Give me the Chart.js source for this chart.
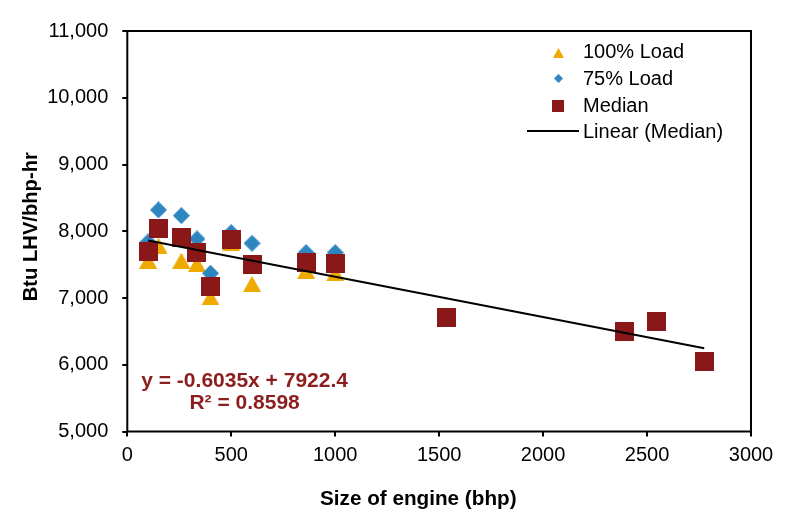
<!DOCTYPE html>
<html>
<head>
<meta charset="utf-8">
<script src="https://cdn.jsdelivr.net/npm/chart.js@4.4.1/dist/chart.umd.min.js"></script>
<style>
html,body{margin:0;padding:0;background:#fff;}
#wrap{width:809px;height:525px;position:relative;}
</style>
</head>
<body>
<div id="wrap"><canvas id="c" width="809" height="525"></canvas></div>
<script>
// ---- data ----
const engineSize   = [100, 150, 260, 335, 400, 500, 600, 860, 1000];
const load100      = [7560, 7785, 7560, 7510, 7012, 7830, 7211, 7406, 7372];
const load75       = [7840, 8320, 8235, 7885, 7370, 7980, 7820, 7680, 7680];
const medianSize   = [100, 150, 260, 335, 400, 500, 600, 860, 1000, 1535, 2390, 2545, 2775];
const medianValue  = [7695, 8045, 7900, 7686, 7171, 7881, 7506, 7536, 7521, 6713, 6503, 6653, 6054];
const trendSlope = -0.6035;
const trendIntercept = 7922.4;
const yTicks = [5000, 6000, 7000, 8000, 9000, 10000, 11000];
const xTicks = [0, 500, 1000, 1500, 2000, 2500, 3000];
const seriesNames = ['100% Load', '75% Load', 'Median', 'Linear (Median)'];

const C_TRI = 'rgb(238,170,0)';
const C_DIA = 'rgb(46,134,193)';
const C_SQ  = 'rgb(139,24,24)';
const C_EQ  = 'rgb(139,30,30)';
const FONT = "'Liberation Sans', Arial, sans-serif";

function mk(w, h, draw) {
  const c = document.createElement('canvas');
  c.width = w; c.height = h;
  const g = c.getContext('2d');
  draw(g, w, h);
  return c;
}
function tri(w, h, col) {
  return mk(w, h, (g, W, H) => { g.fillStyle = col; g.beginPath(); g.moveTo(W/2, 0); g.lineTo(W, H); g.lineTo(0, H); g.closePath(); g.fill(); });
}
function dia(w, h, col) {
  return mk(w, h, (g, W, H) => { g.fillStyle = col; g.beginPath(); g.moveTo(W/2, 0); g.lineTo(W, H/2); g.lineTo(W/2, H); g.lineTo(0, H/2); g.closePath(); g.fill(); });
}
function sq(s, col) {
  return mk(s, s, (g, W, H) => { g.fillStyle = col; g.fillRect(0, 0, W, H); });
}

const ptTri = tri(18, 16, C_TRI), ptDia = dia(17, 17, C_DIA), ptSq = sq(19, C_SQ);
const lgTri = tri(11, 10, C_TRI), lgDia = dia(9, 9, C_DIA), lgSq = sq(12, C_SQ);

const xMin = Math.min(...medianSize), xMax = Math.max(...medianSize);
const trendData = [xMin, xMax].map(x => ({x: x, y: trendSlope * x + trendIntercept}));

const decor = {
  id: 'decor',
  afterDraw(chart) {
    const ctx = chart.ctx, a = chart.chartArea;
    ctx.save();
    // plot box
    ctx.strokeStyle = '#000'; ctx.lineWidth = 2;
    ctx.strokeRect(a.left, a.top, a.right - a.left, a.bottom - a.top);
    // legend
    ctx.fillStyle = '#000';
    ctx.font = '20px ' + FONT;
    ctx.textAlign = 'left'; ctx.textBaseline = 'alphabetic';
    const lx = 583, ys = [58.3, 85, 111.7, 138.3];
    const icons = [lgTri, lgDia, lgSq];
    const icy = [53.3, 78.3, 106];
    icons.forEach((im, i) => ctx.drawImage(im, Math.round(558 - im.width/2), Math.round(icy[i] - im.height/2)));
    ctx.beginPath(); ctx.moveTo(527, 131); ctx.lineTo(579, 131); ctx.lineWidth = 2; ctx.strokeStyle = '#000'; ctx.stroke();
    seriesNames.forEach((n, i) => ctx.fillText(n, lx, ys[i]));
    // equation
    ctx.fillStyle = C_EQ;
    ctx.font = 'bold 21px ' + FONT;
    ctx.textAlign = 'center';
    const sgn = trendIntercept >= 0 ? ' + ' : ' - ';
    ctx.fillText('y = ' + trendSlope.toFixed(4) + 'x' + sgn + Math.abs(trendIntercept).toFixed(1), 244.6, 387.3);
    ctx.fillText('R\u00B2 = 0.8598', 244.6, 409.3);
    // axis titles
    ctx.fillStyle = '#000';
    ctx.font = 'bold 20.7px ' + FONT;
    ctx.fillText('Size of engine (bhp)', 418.3, 505);
    ctx.font = 'bold 20.2px ' + FONT;
    ctx.translate(37.3, 226.7);
    ctx.rotate(-Math.PI / 2);
    ctx.fillText('Btu LHV/bhp-hr', 0, 0);
    ctx.restore();
  }
};

new Chart(document.getElementById('c'), {
  type: 'scatter',
  data: {
    datasets: [
      { label: seriesNames[0], data: engineSize.map((x, i) => ({x: x, y: load100[i]})), pointStyle: ptTri, pointRadius: 9, backgroundColor: C_TRI, borderColor: C_TRI, order: 4 },
      { label: seriesNames[1], data: engineSize.map((x, i) => ({x: x, y: load75[i]})), pointStyle: ptDia, pointRadius: 9, backgroundColor: C_DIA, borderColor: C_DIA, order: 3 },
      { label: seriesNames[2], data: medianSize.map((x, i) => ({x: x, y: medianValue[i]})), pointStyle: ptSq, pointRadius: 10, backgroundColor: C_SQ, borderColor: C_SQ, order: 2 },
      { label: seriesNames[3], type: 'line', data: trendData, showLine: true, pointRadius: 0, borderColor: '#000', borderWidth: 2, fill: false, order: 1 }
    ]
  },
  options: {
    responsive: false,
    animation: false,
    events: [],
    devicePixelRatio: 1,
    layout: { padding: { left: 0, right: 58, top: 31, bottom: 0 } },
    plugins: { legend: { display: false }, tooltip: { enabled: false } },
    scales: {
      x: {
        type: 'linear', min: 0, max: 3000,
        afterBuildTicks: s => { s.ticks = xTicks.map(v => ({value: v})); },
        afterFit: s => { s.height = 93.5; },
        ticks: { color: '#000', font: { family: FONT, size: 20 }, padding: 7, callback: v => String(v), maxRotation: 0 },
        grid: { drawOnChartArea: false, drawTicks: true, tickLength: 5, color: '#000', lineWidth: 2 },
        border: { display: false }
      },
      y: {
        type: 'linear', min: 5000, max: 11000,
        afterBuildTicks: s => { s.ticks = yTicks.map(v => ({value: v})); },
        afterFit: s => { s.width = 127.3; },
        ticks: { color: '#000', font: { family: FONT, size: 20 }, padding: 14, callback: v => v.toLocaleString('en-US') },
        grid: { drawOnChartArea: false, drawTicks: true, tickLength: 5, color: '#000', lineWidth: 2 },
        border: { display: false }
      }
    }
  },
  plugins: [decor]
});
</script>
</body>
</html>
